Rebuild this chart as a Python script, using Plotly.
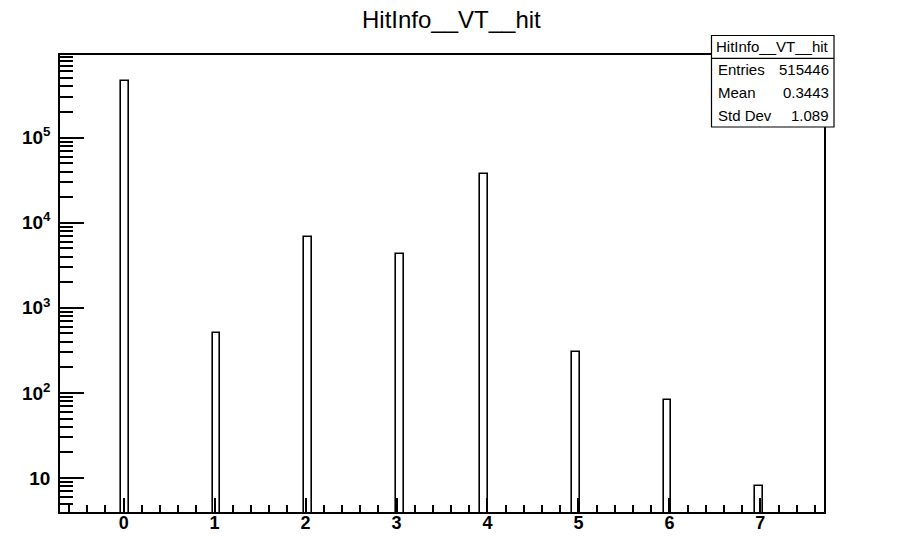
import numpy as np
import plotly.graph_objects as go

# Histogram of HitInfo__VT__hit (100 bins over [-0.7, 7.7])
hit_values = [0, 1, 2, 3, 4, 5, 6, 7]
hit_counts = [466387, 502, 6730, 4310, 37120, 306, 83, 8]

n_bins = 100
x_min, x_max = -0.7, 7.7

stats_title = "HitInfo__VT__hit"
stats_labels = ["Entries", "Mean", "Std Dev"]
stats_values = ["515446", "0.3443", "1.089"]

y_decades = [1, 2, 3, 4, 5]
x_major = [0, 1, 2, 3, 4, 5, 6, 7]

# bin geometry
bin_w = (x_max - x_min) / n_bins
bin_idx = [int(np.floor((v - x_min) / bin_w)) for v in hit_values]
bin_centers = [x_min + (k + 0.5) * bin_w for k in bin_idx]

W, H = 912, 537
M_L, M_R, M_T, M_B = 60, 88, 55, 25
PW, PH = W - M_L - M_R, H - M_T - M_B


def px_x(px):
    return (px - M_L) / PW


def px_y(py):
    return (H - M_B - py) / PH


FONT = "Liberation Sans, Arial, Helvetica, sans-serif"

fig = go.Figure()
fig.add_trace(go.Bar(
    x=bin_centers,
    y=hit_counts,
    width=bin_w,
    marker=dict(color="rgba(0,0,0,0)", line=dict(color="black", width=1.6)),
    hoverinfo="x+y",
    showlegend=False,
))

y_minor = [m * 10 ** d for d in range(0, 6) for m in range(2, 10)]
y_minor = [v for v in y_minor if 10 ** 0.6 <= v <= 10 ** 5.972]

fig.update_xaxes(
    range=[x_min, x_max],
    automargin=False,
    showgrid=False, zeroline=False,
    showline=True, linecolor="black", linewidth=1.5, mirror=True,
    ticks="inside", ticklen=14, tickwidth=1.5, tickcolor="black",
    tickmode="array", tickvals=x_major,
    ticktext=[f"<b>{v}</b>" for v in x_major],
    tickfont=dict(family=FONT, size=18, color="black"),
    ticklabelstandoff=-6,
    minor=dict(ticks="inside", ticklen=7, tickwidth=1.5, tickcolor="black",
               tick0=0, dtick=0.2, showgrid=False),
)
fig.update_yaxes(
    type="log",
    range=[0.6, 5.972],
    automargin=False,
    showgrid=False, zeroline=False,
    showline=True, linecolor="black", linewidth=1.5, mirror=True,
    ticks="inside", ticklen=24, tickwidth=1.5, tickcolor="black",
    tickmode="array", tickvals=[10 ** d for d in y_decades],
    ticktext=["<b>10</b>"] + [f"<b>10<sup>{d}</sup></b>" for d in y_decades[1:]],
    tickfont=dict(family=FONT, size=19, color="black"),
    ticklabelstandoff=4,
    minor=dict(ticks="inside", ticklen=13, tickwidth=1.5, tickcolor="black",
               tickmode="array", tickvals=y_minor, showgrid=False),
)

# title
fig.add_annotation(
    text=stats_title, xref="paper", yref="paper",
    x=px_x(451), y=px_y(19), xanchor="center", yanchor="middle",
    showarrow=False, font=dict(family=FONT, size=24, color="black"),
)

# statistics box
bx0, bx1 = 711.5, 834
by0, by1 = 35.5, 127
row_h = (by1 - by0) / 4
fig.add_shape(type="rect", xref="paper", yref="paper",
              x0=px_x(bx0), x1=px_x(bx1), y0=px_y(by1), y1=px_y(by0),
              line=dict(color="black", width=1.2), fillcolor="white", layer="above")
fig.add_shape(type="line", xref="paper", yref="paper",
              x0=px_x(bx0), x1=px_x(bx1), y0=px_y(by0 + row_h), y1=px_y(by0 + row_h),
              line=dict(color="black", width=1.2), layer="above")
fig.add_annotation(
    text=stats_title, xref="paper", yref="paper",
    x=px_x((bx0 + bx1) / 2), y=px_y(by0 + row_h / 2),
    xanchor="center", yanchor="middle", showarrow=False,
    font=dict(family=FONT, size=15, color="black"),
)
for i, (lab, val) in enumerate(zip(stats_labels, stats_values)):
    yc = by0 + row_h * (i + 1.5)
    fig.add_annotation(text=lab, xref="paper", yref="paper",
                       x=px_x(bx0 + 4), y=px_y(yc), xanchor="left", yanchor="middle",
                       showarrow=False, font=dict(family=FONT, size=15, color="black"))
    fig.add_annotation(text=val, xref="paper", yref="paper",
                       x=px_x(bx1 - 3), y=px_y(yc), xanchor="right", yanchor="middle",
                       showarrow=False, font=dict(family=FONT, size=15, color="black"))

fig.update_layout(
    width=W, height=H,
    margin=dict(l=M_L, r=M_R, t=M_T, b=M_B, autoexpand=False),
    paper_bgcolor="white", plot_bgcolor="white",
    bargap=0,
)

fig.write_html("out.html")
